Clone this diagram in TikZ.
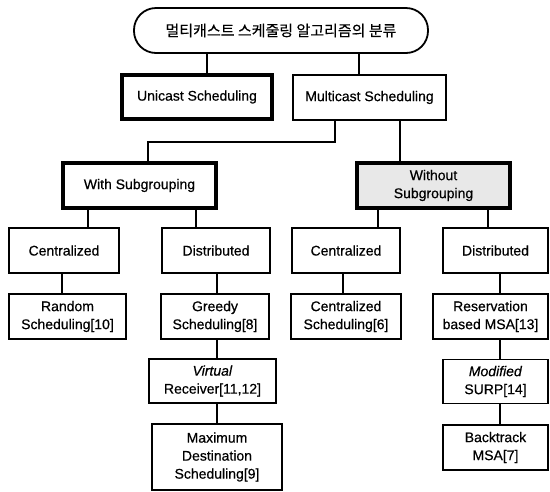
\documentclass[tikz,border=0pt]{standalone}
\usepackage{fontspec}
\setmainfont{Liberation Sans}[FakeBold=0.5]
\newfontfamily\kr{Noto Sans CJK KR}[FakeBold=0.3]
\begin{document}
\begin{tikzpicture}[x=1pt,y=-1pt,
  box/.style={draw,line width=1.5pt,inner sep=0pt,align=center,
    font=\fontsize{14}{18}\selectfont},
  heavybox/.style={box,line width=3.2pt},
  link/.style={line width=1.6pt}]
\useasboundingbox (0,0) rectangle (550,491);
% column helper coordinates
\foreach \c in {207,359,335,148,400,88,196,378,488,62,217,343,500}
  \coordinate (x\c) at (\c,0);
\coordinate (y142) at (0,142);
% nodes
\node[box,line width=1.8pt,rounded corners=22pt,minimum width=294,minimum height=45] (top) at (281,30.5)
  {\kr\fontsize{15}{18}\selectfont 멀티캐스트 스케줄링 알고리즘의 분류};
\node[heavybox,minimum width=150,minimum height=44] (uni) at (197,97) {Unicast Scheduling};
\node[box,minimum width=153,minimum height=45] (multi) at (369.5,97.5) {Multicast Scheduling};
\node[heavybox,minimum width=153,minimum height=45] (with) at (139.5,185.5) {With Subgrouping};
\node[heavybox,fill=gray!18,minimum width=153,minimum height=45] (without) at (433.5,185.5) {Without\\Subgrouping};
\node[box,minimum width=110,minimum height=45] (cL) at (64,250.5) {Centralized};
\node[box,minimum width=108,minimum height=45] (dL) at (216,250.5) {Distributed};
\node[box,minimum width=108,minimum height=45] (cR) at (346,250.5) {Centralized};
\node[box,minimum width=105,minimum height=45] (dR) at (495.5,250.5) {Distributed};
\node[box,minimum width=117,minimum height=45] (rand) at (67.5,316.5) {Random\\Scheduling[10]};
\node[box,minimum width=108,minimum height=45] (greedy) at (215,316.5) {Greedy\\Scheduling[8]};
\node[box,minimum width=110,minimum height=45] (cs) at (346,316.5) {Centralized\\Scheduling[6]};
\node[box,minimum width=115,minimum height=45] (resv) at (490.5,316.5) {Reservation\\based MSA[13]};
\node[box,minimum width=127,minimum height=44] (virt) at (212.5,381) {\textit{Virtual}\\Receiver[11,12]};
\node[box,minimum width=105,minimum height=44] (modif) at (495.5,381.5) {\textit{Modified}\\SURP[14]};
\node[box,minimum width=130,minimum height=66] (maxd) at (217,457) {Maximum\\Destination\\Scheduling[9]};
\node[box,minimum width=105,minimum height=45] (back) at (495.5,447.5) {Backtrack\\MSA[7]};
% connectors
\draw[link] (top.south -| x207) -- (uni.north -| x207);
\draw[link] (top.south -| x359) -- (multi.north -| x359);
\draw[link] (multi.south -| x335) -- (x335 |- y142) -- (x148 |- y142) -- (with.north -| x148);
\draw[link] (multi.south -| x400) -- (without.north -| x400);
\draw[link] (with.south -| x88) -- (cL.north -| x88);
\draw[link] (with.south -| x196) -- (dL.north -| x196);
\draw[link] (without.south -| x378) -- (cR.north -| x378);
\draw[link] (without.south -| x488) -- (dR.north -| x488);
\draw[link] (cL.south -| x62) -- (rand.north -| x62);
\draw[link] (dL.south -| x217) -- (greedy.north -| x217);
\draw[link] (greedy.south -| x217) -- (virt.north -| x217);
\draw[link] (virt.south -| x217) -- (maxd.north -| x217);
\draw[link] (cR.south -| x343) -- (cs.north -| x343);
\draw[link] (dR.south -| x500) -- (resv.north -| x500);
\draw[link] (resv.south -| x500) -- (modif.north -| x500);
\draw[link] (modif.south -| x500) -- (back.north -| x500);
\end{tikzpicture}
\end{document}
